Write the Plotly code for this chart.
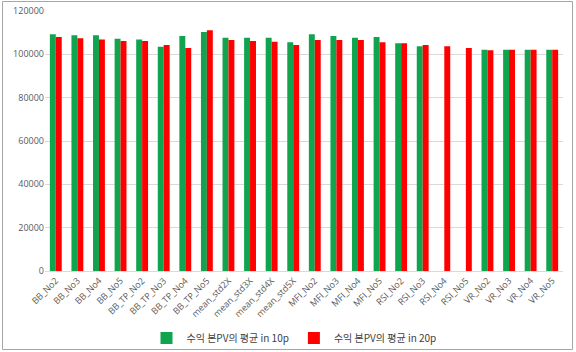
import plotly.graph_objects as go

categories = ["BB_No2", "BB_No3", "BB_No4", "BB_No5", "BB_TP_No2", "BB_TP_No3", "BB_TP_No4", "BB_TP_No5",
              "mean_std2X", "mean_std3X", "mean_std4X", "mean_std5X",
              "MFI_No2", "MFI_No3", "MFI_No4", "MFI_No5",
              "RSI_No2", "RSI_No3", "RSI_No4", "RSI_No5",
              "VR_No2", "VR_No3", "VR_No4", "VR_No5"]
series_10p = [109250, 108800, 108800, 107200, 106900, 103550, 108450, 110300,
              107700, 107700, 107700, 105550,
              109250, 108450, 107700, 108000,
              105100, 103700, None, None,
              102150, 102150, 102150, 102150]
series_20p = [108000, 107400, 106900, 106150, 106150, 104300, 102900, 111100,
              106600, 106150, 105850, 104300,
              106600, 106600, 106600, 105550,
              105100, 104300, 103700, 102900,
              101850, 102150, 102150, 102150]
name_10p = "수익 본PV의 평균 in 10p"
name_20p = "수익 본PV의 평균 in 20p"

font_family = "Noto Sans CJK KR, Noto Sans, sans-serif"
label_font = "Open Sans, Noto Sans, sans-serif"

fig = go.Figure()
fig.add_trace(go.Bar(x=categories, y=series_10p, name=name_10p, marker=dict(color="#11A44F", line=dict(width=0))))
fig.add_trace(go.Bar(x=categories, y=series_20p, name=name_20p, marker=dict(color="#FF0000", line=dict(width=0))))

fig.update_layout(
    width=576, height=352,
    margin=dict(l=45, r=13, t=11, b=81, autoexpand=False),
    barmode="group", bargap=0.45, bargroupgap=0,
    plot_bgcolor="white", paper_bgcolor="white",
    font=dict(family=font_family, size=9, color="#595959"),
    showlegend=True,
    legend=dict(orientation="h", x=0.5 - 10/518, xanchor="center", y=-67/260, yanchor="middle",
                bgcolor="rgba(0,0,0,0)", tracegroupgap=0,
                font=dict(size=10, color="#404040"), itemwidth=30, traceorder="normal"),
    xaxis=dict(tickangle=-45, showgrid=False, showline=True, linecolor="#D9D9D9", linewidth=1,
               ticks="", automargin=False, tickfont=dict(family=label_font, size=9, color="#595959")),
    yaxis=dict(range=[0, 120000], dtick=20000, showgrid=True, gridcolor="#D9D9D9", gridwidth=1,
               zeroline=False, showline=False, ticks="", tickformat="d", automargin=False,
               tickfont=dict(family=label_font, size=9, color="#595959")),
    shapes=[dict(type="rect", xref="paper", yref="paper",
                 x0=-42.5/518, x1=1 + 9.5/518, y0=-78.5/260, y1=1 + 9.5/260,
                 line=dict(color="#A6A6A6", width=1), layer="below")],
)

fig.write_html("out.html")
